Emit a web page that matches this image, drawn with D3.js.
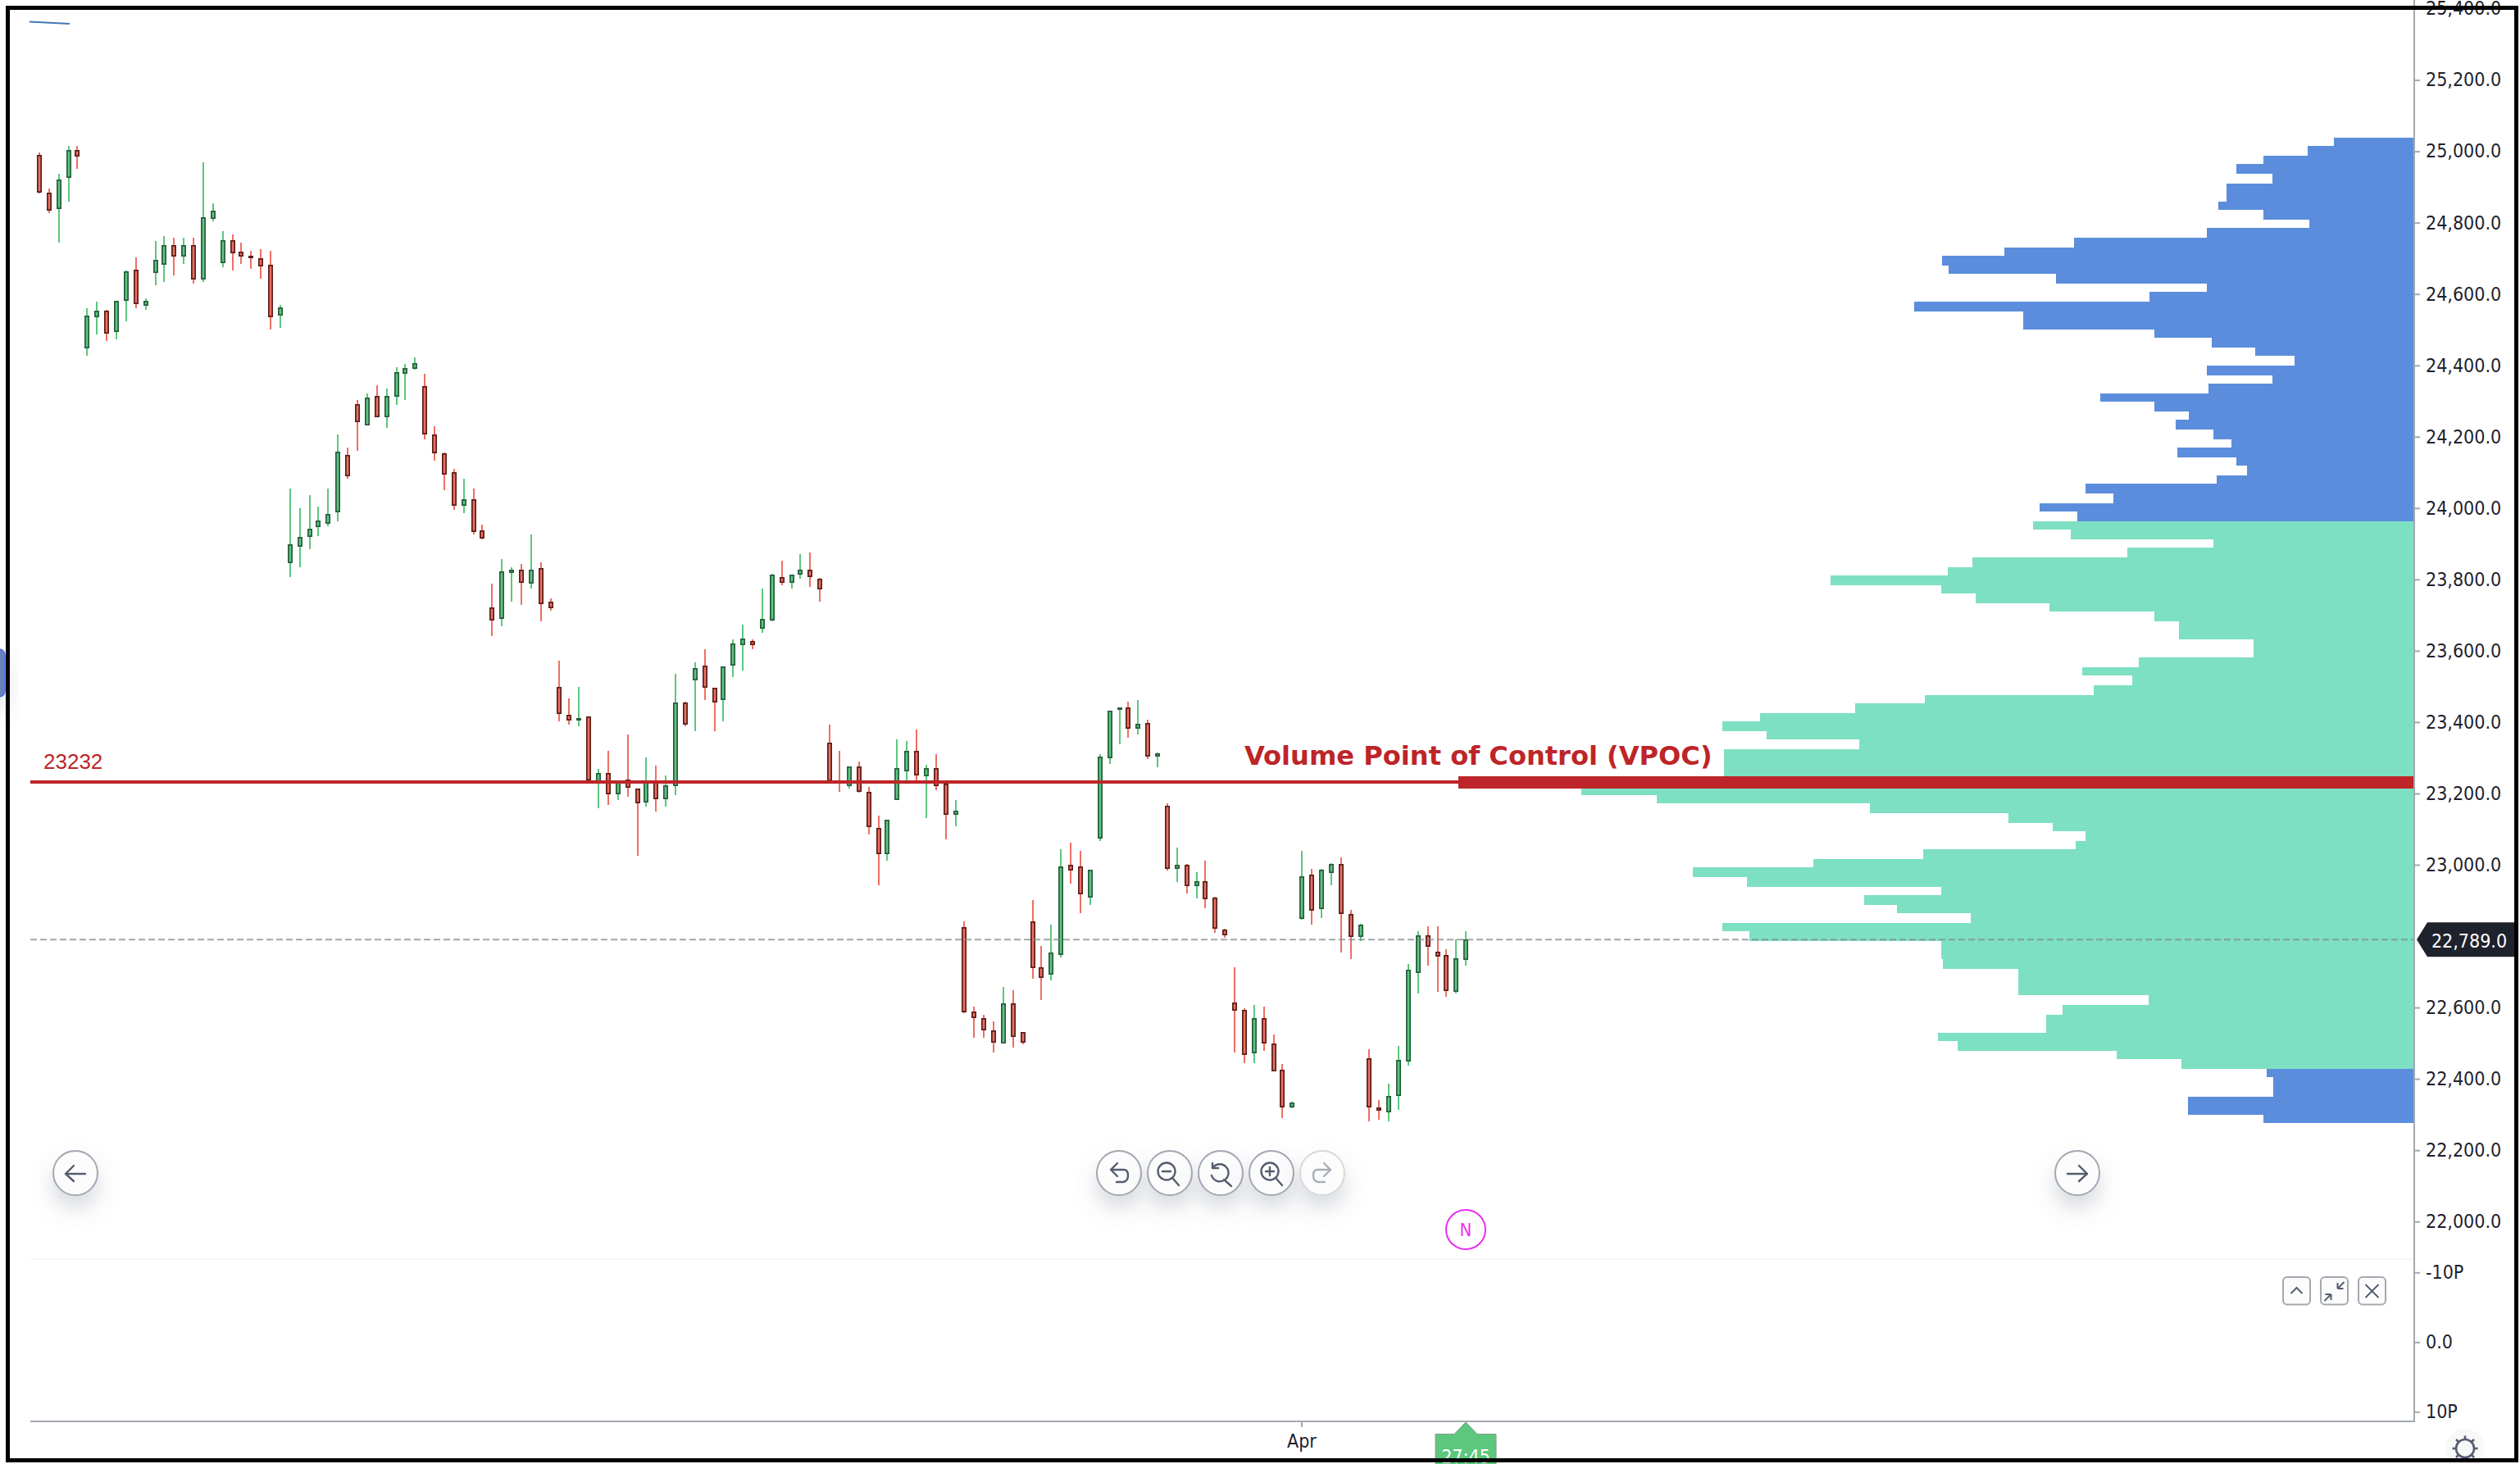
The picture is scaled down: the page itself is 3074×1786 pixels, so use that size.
<!DOCTYPE html>
<html><head><meta charset="utf-8">
<script src="https://cdnjs.cloudflare.com/ajax/libs/d3/7.8.5/d3.min.js"></script>
<style>
html,body{margin:0;padding:0;background:#fff;overflow:hidden}
svg{display:block}
text{font-family:"DejaVu Sans Condensed","DejaVu Sans",sans-serif;fill:#1e222d}
</style></head><body><div id="chart"></div>
<script>
// ---------- DATA ----------
const opens = [24988,24882,24838,24925,25002,24447,24534,24551,24493,24580,24666,24566,24658,24681,24735,24704,24735,24640,24810,24686,24749,24717,24707,24698,24680,24539,
23845,23890,23918,23946,23955,23987,24147,24289,24231,24312,24254,24310,24374,24388,24340,24206,24151,24100,24006,24023,23935,23719,23689,23817,23825,23786,23830,23737,23498,23420,23402,23415,23229,23256,23197,23237,23213,23174,23231,23183,23220,23453,23515,23558,23494,23460,23556,23615,23627,23661,23684,23806,23790,23813,23825,23801,23342,23232,23220,23274,23204,23103,23028,23180,
23261,23319,23247,23269,23225,23138,22823,22587,22569,22534,22497,22611,22529,22841,22712,22691,22747,22998,22993,22907,23072,23298,23432,23439,23381,23397,23303,23163,22986,22998,22940,22952,22906,22817,22612,22593,22471,22570,22497,22424,22319,22848,22970,22875,22976,23002,22860,22797,22456,22318,22305,22351,22448,22696,22800,22755,22745,22642,22732];
const highs = [24995,24894,24936,25014,25014,24559,24577,24554,24579,24665,24702,24586,24747,24761,24756,24756,24756,24968,24853,24775,24766,24743,24720,24724,24720,24568,
24053,23998,24035,24003,24053,24205,24168,24301,24320,24343,24334,24393,24403,24421,24375,24228,24154,24108,24081,24053,23952,23787,23855,23833,23842,23925,23847,23745,23571,23465,23497,23415,23267,23318,23232,23364,23213,23299,23276,23249,23534,23456,23566,23602,23496,23555,23631,23672,23631,23773,23814,23851,23813,23870,23874,23803,23391,23318,23275,23289,23217,23137,23126,23351,
23345,23378,23280,23309,23226,23180,22840,22601,22578,22559,22656,22647,22529,22900,22771,22830,23042,23061,23038,22985,23308,23431,23440,23456,23460,23405,23314,23170,23047,23001,22978,23010,22909,22820,22711,22596,22606,22601,22523,22440,22335,23038,22987,22987,23003,23019,22872,22833,22482,22339,22385,22491,22721,22813,22826,22826,22762,22790,22813];
const lows = [24881,24825,24743,24858,24949,24426,24485,24467,24471,24522,24559,24554,24623,24632,24651,24683,24628,24632,24802,24674,24665,24683,24669,24642,24499,24504,
23805,23833,23883,23920,23948,23961,24080,24159,24230,24253,24223,24287,24301,24387,24191,24131,24049,23994,23984,23925,23911,23640,23667,23736,23726,23773,23680,23712,23400,23391,23386,23235,23157,23166,23180,23189,23024,23162,23148,23162,23194,23388,23373,23460,23373,23400,23524,23543,23603,23649,23680,23783,23773,23801,23778,23736,23230,23203,23213,23201,23084,22941,23010,23180,
23235,23235,23130,23207,23070,23107,22583,22514,22514,22472,22497,22486,22496,22680,22619,22675,22739,22946,22863,22886,23066,23282,23336,23355,23364,23295,23273,22983,22950,22919,22904,22877,22808,22794,22472,22443,22443,22476,22420,22289,22316,22845,22831,22849,22941,22752,22734,22784,22280,22283,22280,22311,22436,22637,22715,22642,22628,22637,22715];
const closes = [24883,24833,24919,25002,24985,24537,24551,24488,24579,24662,24571,24579,24694,24735,24704,24735,24640,24813,24832,24749,24713,24704,24700,24677,24534,24560,
23898,23917,23940,23963,23982,24156,24088,24239,24308,24254,24312,24380,24390,24404,24204,24153,24093,24006,24023,23932,23914,23684,23821,23826,23790,23825,23730,23717,23422,23404,23410,23235,23256,23197,23232,23215,23170,23232,23183,23222,23453,23391,23549,23496,23454,23554,23618,23632,23615,23687,23811,23790,23811,23825,23804,23771,23232,23228,23274,23202,23105,23028,23126,23269,
23319,23248,23269,23220,23138,23150,22585,22569,22535,22499,22611,22516,22499,22710,22682,22753,22993,22982,22917,22984,23301,23430,23439,23381,23393,23303,23311,22986,22998,22940,22952,22903,22820,22800,22590,22466,22570,22498,22420,22319,22332,22966,22871,22984,23002,22861,22797,22832,22319,22310,22350,22451,22704,22800,22769,22742,22645,22737,22789];

// volume by price, top row first (one row per price bin)
const profile = [98,130,184,217,173,229,229,239,184,128,253,415,500,576,568,437,253,323,610,477,477,317,247,194,146,253,173,251,383,317,275,291,245,223,289,217,204,241,401,367,457,411,
465,419,245,350,539,569,712,577,535,445,317,287,287,196,196,336,405,344,391,597,682,798,844,790,677,842,842,842,1166,1016,924,664,495,441,401,413,599,733,880,814,577,671,631,541,844,811,577,577,575,483,483,483,324,429,449,449,581,557,363,284,
180,172,172,276,276,184];
const profileTop = 25038, profileBin = 25.6, valueAreaHigh = 23961, valueAreaLow = 22425, profileMax = 1166;

const priceTicks = [25400,25200,25000,24800,24600,24400,24200,24000,23800,23600,23400,23200,23000,22600,22400,22200,22000];
const paneTicks = [-10,0,10];
const timeTicks = [131], timeLabels = ["Apr"];
const vpocPrice = 23232, vpocTitle = "Volume Point of Control (VPOC)";
const lastPrice = 22789, countdown = "27:45";
const trendBars = [-1,3.15], trendPrices = [25362,25356];

// ---------- LAYOUT ----------
const W = 3074, H = 1786, axisX = 2945, bottomY = 1734, leftX = 37;
const svg = d3.select("#chart").append("svg").attr("width",W).attr("height",H);
const defs = svg.append("defs");
const sh = defs.append("filter").attr("id","sh").attr("x","-100%").attr("y","-100%").attr("width","300%").attr("height","320%");
sh.append("feDropShadow").attr("dx",0).attr("dy",15).attr("stdDeviation",13).attr("flood-color","#6b7285").attr("flood-opacity",0.27);

const x = d3.scaleLinear().domain([0,148]).range([47.9,47.9+148*11.76]);
const y = d3.scaleLinear().domain([25000,22000]).range([184,1489.6]);
const yPane = d3.scaleLinear().domain([-10,10]).range([1551.7,1721.7]);
const vx = d3.scaleLinear().domain([0,profileMax]).range([axisX,axisX-1166]);
const snap = v => 2*Math.round(v/2);
const cx = i => snap(x(i));

const GREEN="#5cc77d",GREEND="#2a5c3f",RED="#ee6f63",REDD="#5a1f1a",VRED="#bd2528";

// handle on the left
svg.append("rect").attr("x",-12).attr("y",792).attr("width",18).attr("height",58).attr("rx",7)
  .attr("fill","#6a80b8").attr("stroke","#3d6fe0").attr("stroke-width",1.5).attr("filter","url(#sh)");

// separator and axis frame
svg.append("line").attr("x1",leftX).attr("x2",axisX).attr("y1",1536).attr("y2",1536).attr("stroke","#f6f6f7").attr("stroke-width",2);

// volume profile
const rows = profile.map((v,k)=>({v,k,top:profileTop-k*profileBin,bot:profileTop-(k+1)*profileBin}));
svg.append("g").attr("shape-rendering","crispEdges").selectAll("rect").data(rows).join("rect")
  .attr("x",d=>vx(d.v)).attr("width",d=>axisX-vx(d.v))
  .attr("y",d=>snap(y(d.top))).attr("height",d=>snap(y(d.bot))-snap(y(d.top)))
  .attr("fill",d=>{const m=(d.top+d.bot)/2;return (m<valueAreaHigh&&m>valueAreaLow)?"#7de0c3":"#5b8ddc";});

// candles
const idx = d3.range(opens.length);
const isUp = i => closes[i]>=opens[i];
const cg = svg.append("g");
cg.selectAll("rect.w").data(idx).join("rect").attr("class","w").attr("shape-rendering","crispEdges")
  .attr("x",i=>cx(i)-1).attr("width",2)
  .attr("y",i=>Math.round(y(highs[i]))).attr("height",i=>Math.max(1,Math.round(y(lows[i]))-Math.round(y(highs[i]))))
  .attr("fill",i=>isUp(i)?GREEN:RED);
cg.selectAll("rect.b").data(idx).join("rect").attr("class","b")
  .attr("x",i=>cx(i)-2.15).attr("width",4.3)
  .attr("y",i=>Math.round(y(Math.max(opens[i],closes[i])))+0.85)
  .attr("height",i=>Math.max(0.5,Math.round(y(Math.min(opens[i],closes[i])))-Math.round(y(Math.max(opens[i],closes[i])))-1.7))
  .attr("fill",i=>isUp(i)?GREEN:RED).attr("stroke",i=>isUp(i)?GREEND:REDD).attr("stroke-width",1.7);

// trend stroke, top left
svg.append("line").attr("x1",36).attr("x2",x(trendBars[1])).attr("y1",y(trendPrices[0])).attr("y2",y(trendPrices[1]))
  .attr("stroke","#4278b4").attr("stroke-width",2);

// VPOC
const vpocY = y(vpocPrice);
svg.append("rect").attr("x",leftX).attr("width",vx(profileMax)-leftX).attr("y",vpocY-1.5).attr("height",4).attr("fill",VRED).attr("shape-rendering","crispEdges");
svg.append("rect").attr("x",vx(profileMax)).attr("width",axisX-vx(profileMax)).attr("y",vpocY-6.5).attr("height",15).attr("fill",VRED).attr("shape-rendering","crispEdges");
svg.append("text").attr("x",53).attr("y",938).attr("font-size",26).style("fill",VRED).style("font-family","'Liberation Sans',sans-serif").text(vpocPrice);
svg.append("text").attr("x",1518).attr("y",933).attr("font-size",32.1).attr("font-weight",700).style("fill",VRED).style("font-family","'DejaVu Sans',sans-serif").text(vpocTitle);

// last price
svg.append("line").attr("x1",leftX).attr("x2",axisX).attr("y1",y(lastPrice)).attr("y2",y(lastPrice))
  .attr("stroke","#7f858d").attr("stroke-opacity",0.72).attr("stroke-width",2).attr("stroke-dasharray","8 4");

// axes
const axisCol="#a3a9b0";
const stylize = g => { g.select(".domain").remove(); g.selectAll(".tick line").attr("stroke",axisCol).attr("stroke-width",2);
  g.selectAll(".tick text").attr("font-size",23).style("font-family",null); };
svg.append("g").attr("transform",`translate(${axisX},0.6)`)
  .call(d3.axisRight(y).tickValues(priceTicks).tickSize(7).tickPadding(7).tickFormat(d3.format(",.1f"))).call(stylize);
const paneFmt = v => v===0 ? "0.0" : (v+"P");
svg.append("g").attr("transform",`translate(${axisX},0.6)`)
  .call(d3.axisRight(yPane).tickValues(paneTicks).tickSize(7).tickPadding(7).tickFormat(paneFmt)).call(stylize);
svg.append("g").attr("transform",`translate(-1,${bottomY})`)
  .call(d3.axisBottom(x).tickValues(timeTicks).tickSize(7).tickPadding(9).tickFormat((d,i)=>timeLabels[i])).call(stylize);
svg.selectAll("g.tick text").attr("fill",null);
svg.append("line").attr("x1",axisX).attr("x2",axisX).attr("y1",0).attr("y2",bottomY+1).attr("stroke",axisCol).attr("stroke-width",2);
svg.append("line").attr("x1",leftX).attr("x2",axisX+1).attr("y1",bottomY).attr("y2",bottomY).attr("stroke",axisCol).attr("stroke-width",2);

// last price tag
const tagY = y(lastPrice);
svg.append("path").attr("d",`M2948,${tagY} L2961,${tagY-21} H3068 V${tagY+21} H2961 Z`).attr("fill","#1e222d");
svg.append("text").attr("x",3012).attr("y",tagY+1).attr("dy",".36em").attr("text-anchor","middle").attr("font-size",23).style("fill","#fff").text(d3.format(",.1f")(lastPrice));

// buttons
function btn(cxx,op){
  const g=svg.append("g").attr("transform",`translate(${cxx},1431)`);
  g.append("circle").attr("r",27).attr("fill","#fcfcfd").attr("stroke","#a3a7b3").attr("stroke-width",2).attr("filter",op<1?null:"url(#sh)").attr("opacity",op);
  return g.append("g").attr("fill","none").attr("stroke",op<1?"#a9aeb9":"#555d70").attr("stroke-width",2.4).attr("stroke-linecap","round").attr("stroke-linejoin","round");
}
btn(92,1).append("path").attr("d","M12,1 H-12 M-2,-9 L-12,1 L-2,10");
btn(2534,1).append("path").attr("d","M-12,1 H12 M2,-9 L12,1 L2,10");
btn(1365,1).append("path").attr("d","M-10,-4 L-2,-12 M-10,-4 L-2,4 M-10,-4 H6 Q11,-4 11,3 T5,11 H-3");
let g2=btn(1427,1); g2.append("circle").attr("cx",-4).attr("cy",-2).attr("r",10.5); g2.append("path").attr("d","M4,7 L11,15 M-9,-2 H1");
let g3=btn(1489,1); g3.append("path").attr("d","M-9,-7 A10.5,10.5 0 1 1 -11,3 M-10,-12 V-6 H-3 M4,8 L13,16");
let g4=btn(1551,1); g4.append("circle").attr("cx",-2).attr("cy",-2).attr("r",10.5); g4.append("path").attr("d","M6,7 L13,15 M-7,-2 H3 M-2,-7 V3");
let g5=svg.append("g").attr("transform","translate(1613,1431)");
g5.append("circle").attr("r",27).attr("fill","#fcfcfd").attr("stroke","#d6d8de").attr("stroke-width",2).attr("filter","url(#sh)");
g5.append("path").attr("d","M10,-4 L2,-12 M10,-4 L2,4 M10,-4 H-6 Q-11,-4 -11,3 T-5,11 H3").attr("fill","none").attr("stroke","#a9aeb9").attr("stroke-width",2.4).attr("stroke-linecap","round").attr("stroke-linejoin","round");

// N marker
svg.append("ellipse").attr("cx",cx(148)).attr("cy",1500).attr("rx",24).attr("ry",24).attr("fill","#fff").attr("stroke","#e92ef0").attr("stroke-width",2);
svg.append("text").attr("x",cx(148)).attr("y",1500).attr("dy",".36em").attr("text-anchor","middle").attr("font-size",22).style("fill","#e92ef0").text("N");

// small pane buttons
[[2784,"M-7,3 L0,-4 L7,3"],[2830,"M4,-3 L12,-11 M4,-3 H11 M4,-3 V-10 M-4,4 L-12,12 M-4,4 H-11 M-4,4 V11"],[2876,"M-8,-8 L8,8 M8,-8 L-8,8"]].forEach(([px,d])=>{
  const g=svg.append("g").attr("transform",`translate(${px},1557)`);
  g.append("rect").attr("x",1).attr("y",1).attr("width",33).attr("height",33.5).attr("rx",5).attr("fill","#fbfbfc").attr("stroke","#a3a9b0").attr("stroke-width",2);
  g.append("path").attr("transform","translate(17.5,18)").attr("d",d).attr("fill","none").attr("stroke","#555d70").attr("stroke-width",2);
});

// countdown marker
const cdx = cx(148);
svg.append("path").attr("d",`M${cdx},1735 L${cdx+14},1749.5 H${cdx+37} V1790 H${cdx-37} V1749.5 H${cdx-14} Z`).attr("fill",GREEN).attr("stroke","#8a9a90").attr("stroke-width",1);
svg.append("text").attr("x",cdx).attr("y",1785).attr("text-anchor","middle").attr("font-size",23).style("fill","#fff").text(countdown);

// settings icon
const sg = svg.append("g").attr("transform","translate(3007,1767)");
sg.append("circle").attr("r",24).attr("fill","#f8f8f9");
sg.append("circle").attr("r",11).attr("fill","none").attr("stroke","#555d70").attr("stroke-width",2.6);
sg.append("g").selectAll("line").data(d3.range(8)).join("line").attr("transform",d=>`rotate(${d*45})`).attr("y1",-11).attr("y2",-15.5).attr("stroke","#555d70").attr("stroke-width",2.6);

// outer frame on top
svg.append("rect").attr("x",9.5).attr("y",9.5).attr("width",3060).attr("height",1772).attr("fill","none").attr("stroke","#000").attr("stroke-width",5);
</script></body></html>
